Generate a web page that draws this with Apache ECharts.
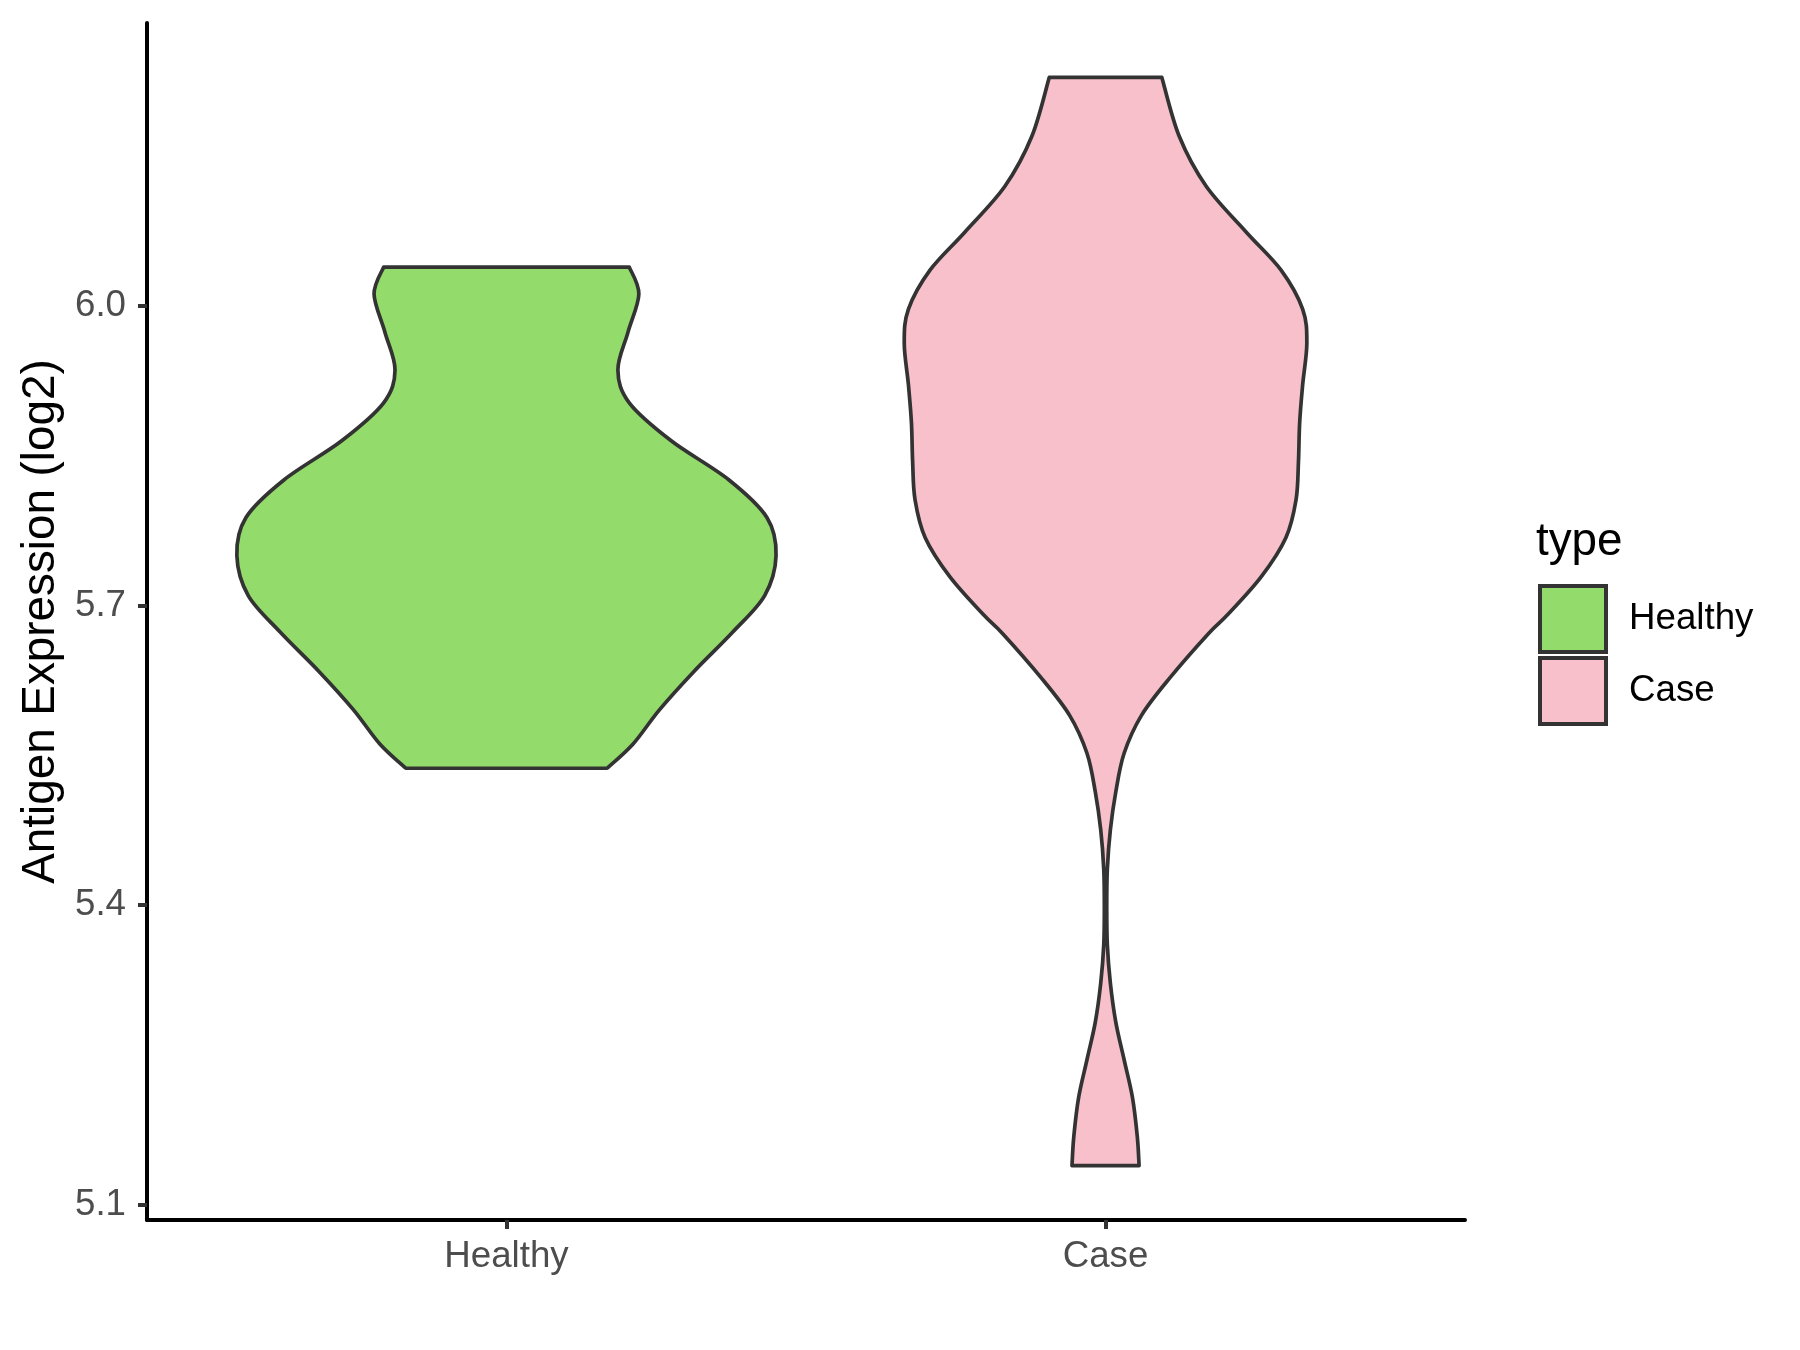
<!DOCTYPE html>
<html>
<head>
<meta charset="utf-8">
<script src="https://cdn.jsdelivr.net/npm/echarts@6/dist/echarts.min.js"></script>
<style>
  html, body { margin: 0; padding: 0; background: #fff; }
  #violin { width: 1800px; height: 1350px; }
</style>
</head>
<body>
<div id="violin"></div>
<script>
  const groups = ['Healthy', 'Case'];
  const fills = ['#93DB6B', '#F7C0CB'];
  const yTicks = [5.1, 5.4, 5.7, 6.0];

  // violin outlines: value -> half width (category units)
  const healthyVals = [6.039, 6.012, 5.974, 5.936, 5.903, 5.865, 5.826, 5.788, 5.750, 5.710, 5.673, 5.634, 5.596, 5.561, 5.537];
  const healthyHalf = [0.205, 0.221, 0.203, 0.186, 0.205, 0.275, 0.371, 0.435, 0.450, 0.431, 0.377, 0.313, 0.256, 0.211, 0.168];

  const caseVals = [6.229, 6.170, 6.120, 6.074, 6.036, 5.997, 5.963, 5.921, 5.883, 5.844, 5.806, 5.768, 5.729, 5.691, 5.672,
    5.628, 5.590, 5.552, 5.513, 5.475, 5.436, 5.398, 5.360, 5.322, 5.283, 5.245, 5.207, 5.168, 5.139];
  const caseHalf = [0.094, 0.123, 0.168, 0.235, 0.293, 0.329, 0.336, 0.329, 0.324, 0.322, 0.318, 0.301, 0.260, 0.204, 0.172,
    0.108, 0.060, 0.031, 0.017, 0.008, 0.003, 0.002, 0.003, 0.008, 0.017, 0.031, 0.045, 0.053, 0.056];

  const profiles = [
    { vals: healthyVals, half: healthyHalf },
    { vals: caseVals, half: caseHalf }
  ];

  // smooth curve through pixel points (catmull-rom as bezier)
  function curve(pts, first) {
    let d = (first ? 'M' : 'L') + pts[0][0] + ' ' + pts[0][1];
    for (let i = 0; i < pts.length - 1; i++) {
      const p0 = pts[Math.max(i - 1, 0)], p1 = pts[i], p2 = pts[i + 1], p3 = pts[Math.min(i + 2, pts.length - 1)];
      const c1 = [p1[0] + (p2[0] - p0[0]) / 6, p1[1] + (p2[1] - p0[1]) / 6];
      const c2 = [p2[0] - (p3[0] - p1[0]) / 6, p2[1] - (p3[1] - p1[1]) / 6];
      d += 'C' + c1[0] + ' ' + c1[1] + ' ' + c2[0] + ' ' + c2[1] + ' ' + p2[0] + ' ' + p2[1];
    }
    return d;
  }

  function violinItem(idx) {
    return function (params, api) {
      const p = profiles[idx];
      const left = p.vals.map((v, i) => api.coord([idx - p.half[i], v]));
      const right = p.vals.map((v, i) => api.coord([idx + p.half[i], v])).reverse();
      return {
        type: 'path',
        shape: { pathData: curve(left, true) + curve(right, false) + 'Z' },
        style: { fill: fills[idx], stroke: '#333333', lineWidth: 3.7, lineJoin: 'round' }
      };
    };
  }

  const chart = echarts.init(document.getElementById('violin'));
  chart.setOption({
    animation: false,
    backgroundColor: '#fff',
    textStyle: { fontFamily: 'Liberation Sans, Arial, sans-serif' },
    grid: { left: 147, top: 23, width: 1318, height: 1197 },
    xAxis: {
      type: 'value',
      min: -0.6,
      max: 1.6,
      splitLine: { show: false },
      axisLine: { show: true, onZero: false, lineStyle: { color: '#000', width: 4 } },
      axisTick: { show: true, customValues: [0, 1], length: 9, lineStyle: { color: '#333', width: 4 } },
      axisLabel: {
        customValues: [0, 1],
        formatter: v => groups[Math.round(v)],
        color: '#4D4D4D',
        fontSize: 36.7,
        margin: 18
      }
    },
    yAxis: {
      type: 'value',
      min: 5.0845,
      max: 6.2835,
      splitLine: { show: false },
      name: 'Antigen Expression (log2)',
      nameLocation: 'middle',
      nameGap: 82,
      nameTextStyle: { fontSize: 45.8, color: '#000' },
      axisLine: { show: true, onZero: false, lineStyle: { color: '#000', width: 4 } },
      axisTick: { show: true, customValues: yTicks, length: 9, lineStyle: { color: '#333', width: 4 } },
      axisLabel: {
        customValues: yTicks,
        formatter: v => v.toFixed(1),
        color: '#4D4D4D',
        fontSize: 36.7,
        margin: 21
      }
    },
    legend: {
      data: groups,
      orient: 'vertical',
      left: 1538,
      top: 584,
      padding: 0,
      icon: 'rect',
      itemWidth: 66,
      itemHeight: 66,
      itemGap: 2,
      selectedMode: false,
      itemStyle: { borderColor: '#333', borderWidth: 4 },
      textStyle: { fontSize: 36.7, color: '#000', padding: [0, 0, 0, 18] }
    },
    graphic: [{
      type: 'text',
      left: 1536,
      top: 519,
      style: { text: 'type', fontSize: 45.8, fill: '#000', fontFamily: 'Liberation Sans, Arial, sans-serif' }
    }],
    series: groups.map((g, i) => ({
      name: g,
      type: 'custom',
      silent: true,
      itemStyle: { color: fills[i] },
      data: [[i, profiles[i].vals[0]]],
      renderItem: violinItem(i)
    }))
  });
</script>
</body>
</html>
